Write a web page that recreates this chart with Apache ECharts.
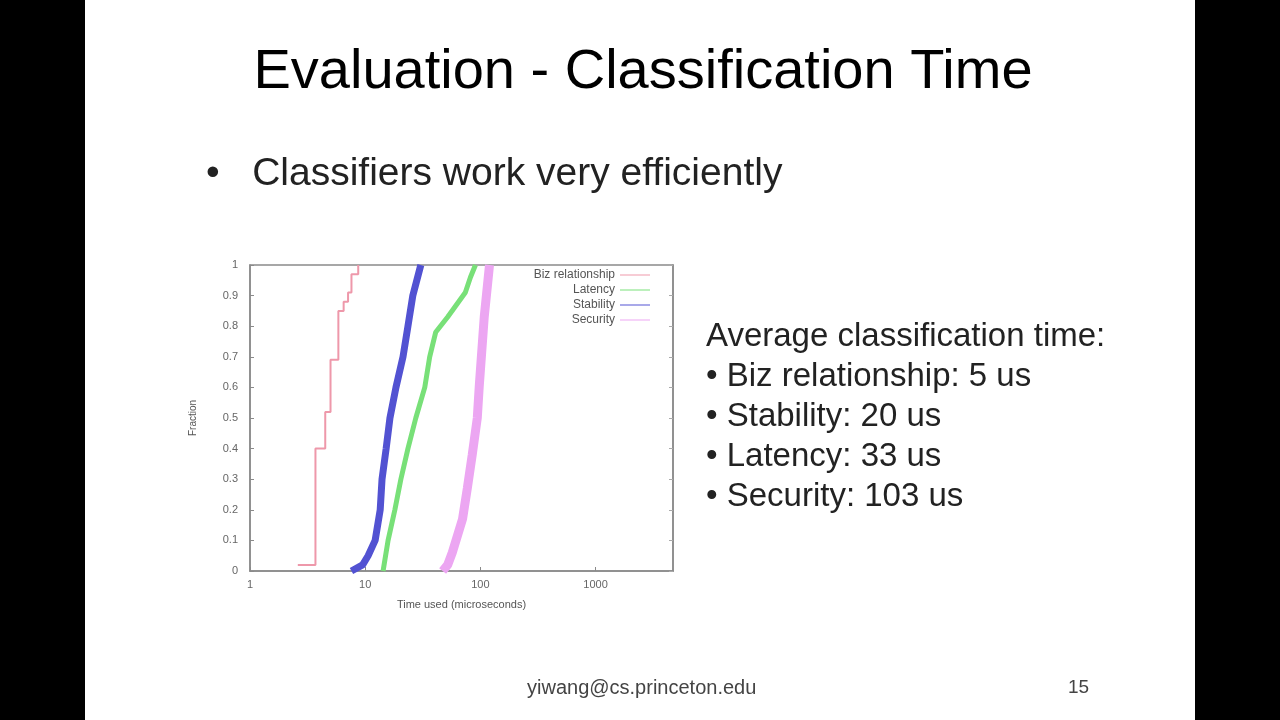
<!DOCTYPE html>
<html>
<head>
<meta charset="utf-8">
<script src="https://cdn.jsdelivr.net/npm/echarts@6/dist/echarts.min.js"></script>
<style>
html,body{margin:0;padding:0;background:#000;}
#slide{position:absolute;left:85px;top:0;width:1110px;height:720px;background:#fff;}
#chart{position:absolute;left:0;top:0;width:1280px;height:720px;}
</style>
</head>
<body>
<div id="slide"></div>
<div id="chart"></div>
<script>
// ---- Data (time in microseconds, cumulative fraction) ----
const seriesNames = ['Biz relationship', 'Latency', 'Stability', 'Security'];

const bizTime = [2.6, 3.7, 4.5, 5.0, 5.85, 6.5, 7.1, 7.6, 8.7];
const bizFrac = [0.02, 0.40, 0.52, 0.69, 0.85, 0.88, 0.91, 0.97, 1.0];

const latencyTime = [14.3, 15.8, 18.1, 20.4, 23.5, 27.5, 32.9, 36.3, 40.9, 52, 74, 82, 90.6];
const latencyFrac = [0, 0.1, 0.2, 0.3, 0.4, 0.5, 0.6, 0.7, 0.78, 0.83, 0.91, 0.96, 1.0];

const stabilityTime = [7.6, 9.5, 10.6, 12.2, 13.5, 14.0, 15.2, 16.4, 18.5, 21.3, 23.5, 25.9, 30.4];
const stabilityFrac = [0, 0.02, 0.05, 0.1, 0.2, 0.3, 0.4, 0.5, 0.6, 0.7, 0.8, 0.9, 1.0];

const securityTime = [47, 52, 57, 70, 77, 85, 94, 98, 108, 120];
const securityFrac = [0, 0.02, 0.06, 0.17, 0.27, 0.38, 0.5, 0.61, 0.83, 1.0];

const xTickValues = [1, 10, 100, 1000];

const slideTitle = 'Evaluation - Classification Time';
const bulletText = '•   Classifiers work very efficiently';
const sideLines = [
  'Average classification time:',
  '• Biz relationship: 5 us',
  '• Stability: 20 us',
  '• Latency: 33 us',
  '• Security: 103 us'
];
const footerText = 'yiwang@cs.princeton.edu';
const pageNumber = '15';

function pairs(xs, ys) { return xs.map((x, i) => [x, ys[i]]); }

const FONT = 'Liberation Sans, Arial, sans-serif';
const chart = echarts.init(document.getElementById('chart'));

const graphics = [
  { type: 'text', x: 643, y: 73, z: 10,
    style: { text: slideTitle, fill: '#000', font: '56px ' + FONT, textAlign: 'center', textVerticalAlign: 'middle' } },
  { type: 'text', x: 206, y: 174, z: 10,
    style: { text: bulletText, fill: '#222', font: '39px ' + FONT, textAlign: 'left', textVerticalAlign: 'middle' } },
  { type: 'text', x: 527, y: 688, z: 10,
    style: { text: footerText, fill: '#444', font: '20px ' + FONT, textAlign: 'left', textVerticalAlign: 'middle' } },
  { type: 'text', x: 1068, y: 688, z: 10,
    style: { text: pageNumber, fill: '#444', font: '19px ' + FONT, textAlign: 'left', textVerticalAlign: 'middle' } }
];
sideLines.forEach((t, i) => {
  graphics.push({ type: 'text', x: 706, y: 337 + i * 40, z: 10,
    style: { text: t, fill: '#222', font: '33px ' + FONT, textAlign: 'left', textVerticalAlign: 'middle' } });
});

function isPow10(v) {
  const l = Math.log10(v);
  return Math.abs(l - Math.round(l)) < 1e-6;
}

const option = {
  backgroundColor: 'transparent',
  animation: false,
  graphic: graphics,
  legend: {
    orient: 'vertical',
    align: 'right',
    right: 630,
    top: 269,
    padding: 0,
    itemGap: 3,
    itemWidth: 30,
    itemHeight: 12,
    textStyle: { fontFamily: FONT, fontSize: 12, color: '#555' },
    data: seriesNames.map(n => ({ name: n, icon: 'path://M0,5L30,5L30,6L0,6Z' }))
  },
  grid: {
    left: 250, top: 265, width: 423, height: 306,
    show: true, borderColor: '#8a8a8a', borderWidth: 1.5, backgroundColor: '#fff'
  },
  xAxis: {
    type: 'log', logBase: 10, min: 1, max: 4700,
    name: 'Time used (microseconds)', nameLocation: 'middle', nameGap: 28,
    nameTextStyle: { fontFamily: FONT, fontSize: 11, color: '#555' },
    axisLine: { show: true, lineStyle: { color: '#8a8a8a', width: 1.5 } },
    axisTick: { show: true, inside: true, length: 4, lineStyle: { color: '#8a8a8a' },
      customValues: xTickValues },
    axisLabel: { fontFamily: FONT, fontSize: 11, color: '#666', margin: 8,
      customValues: xTickValues,
      formatter: v => isPow10(v) ? String(Math.round(v)) : '' },
    splitLine: { show: false },
    minorTick: { show: false }
  },
  yAxis: [{
    type: 'value', min: 0, max: 1, interval: 0.1,
    name: 'Fraction', nameLocation: 'middle', nameGap: 52, nameRotate: 90,
    nameTextStyle: { fontFamily: FONT, fontSize: 10, color: '#555' },
    axisLine: { show: true, lineStyle: { color: '#8a8a8a', width: 1.5 } },
    axisTick: { show: true, inside: true, length: 4, lineStyle: { color: '#8a8a8a' } },
    axisLabel: { fontFamily: FONT, fontSize: 11, color: '#666', margin: 12 },
    splitLine: { show: false }
  }, {
    type: 'value', min: 0, max: 1, interval: 0.1, position: 'right',
    axisLine: { show: true, lineStyle: { color: '#8a8a8a', width: 1.5 } },
    axisTick: { show: true, inside: true, length: 4, lineStyle: { color: '#aaa' } },
    axisLabel: { show: false },
    splitLine: { show: false }
  }],
  series: [
    {
      name: seriesNames[0], type: 'line', step: 'end', showSymbol: false, symbol: 'none',
      data: pairs(bizTime, bizFrac),
      lineStyle: { color: '#ee98aa', width: 2 }, itemStyle: { color: '#ee98aa' }, z: 5
    },
    {
      name: seriesNames[1], type: 'line', showSymbol: false, symbol: 'none',
      data: pairs(latencyTime, latencyFrac),
      lineStyle: { color: '#78e078', width: 5 }, itemStyle: { color: '#78e078' }, z: 4
    },
    {
      name: seriesNames[2], type: 'line', showSymbol: false, symbol: 'none',
      data: pairs(stabilityTime, stabilityFrac),
      lineStyle: { color: '#5252d2', width: 7 }, itemStyle: { color: '#5252d2' }, z: 4
    },
    {
      name: seriesNames[3], type: 'line', showSymbol: false, symbol: 'none',
      data: pairs(securityTime, securityFrac),
      lineStyle: { color: '#eca6f2', width: 9 }, itemStyle: { color: '#eca6f2' }, z: 4
    }
  ]
};
chart.setOption(option);
</script>
</body>
</html>
